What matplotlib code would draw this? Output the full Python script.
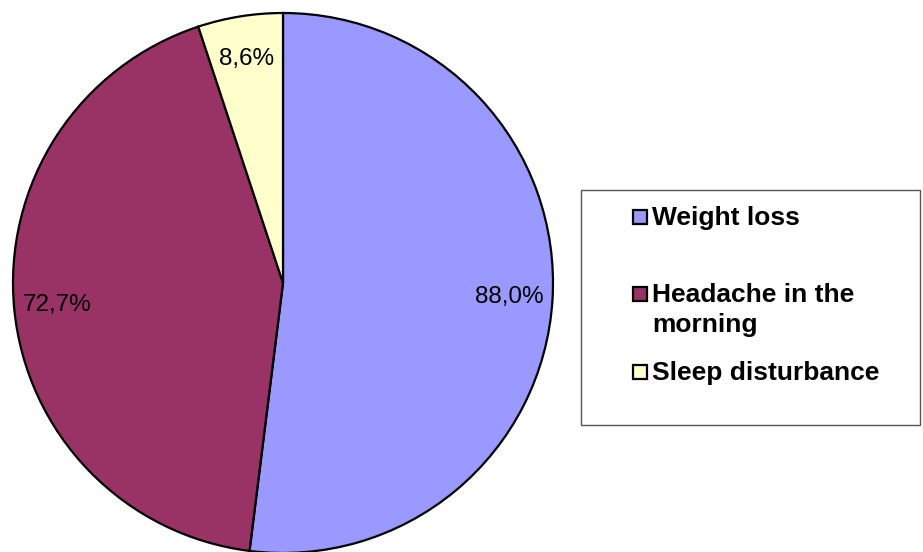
import matplotlib
matplotlib.use("Agg")
import matplotlib.pyplot as plt
from matplotlib.patches import Rectangle

categories = ["Weight loss", "Headache in the\nmorning", "Sleep disturbance"]
values = [88.0, 72.7, 8.6]
value_labels = ["88,0%", "72,7%", "8,6%"]
colors = ["#9999FF", "#993366", "#FFFFCC"]

W, H = 923, 552
fig = plt.figure(figsize=(W / 100, H / 100), dpi=100)
plt.rcParams['font.family'] = ['Liberation Sans', 'DejaVu Sans']

def fx(x):
    return x / W

def fy(y):
    return 1 - y / H

# pie axes: center (283, 283) px, radius 270 px
cx, cy, r = 283, 283, 270
ax = fig.add_axes([fx(cx - r), fy(cy + r), 2 * r / W, 2 * r / H])
wedges, texts = ax.pie(values, colors=colors, startangle=90, counterclock=False,
                       labels=value_labels, labeldistance=0.84,
                       wedgeprops=dict(edgecolor="black", linewidth=1.6, clip_on=False),
                       textprops=dict(fontsize=17.5, color="black"))
for t in texts:
    t.set_ha("center")
    t.set_va("center")
ax.set_xlim(-1, 1)
ax.set_ylim(-1, 1)
ax.set_aspect("equal")
ax.axis("off")

# legend drawn manually
box = Rectangle((fx(581), fy(425)), fx(920) - fx(581), fy(190) - fy(425),
                transform=fig.transFigure, facecolor="white", edgecolor="#555555",
                linewidth=1.0)
fig.patches.append(box)

baselines = [225, 302, 380]
line_gap = 30
for lab, col, yb in zip(categories, colors, baselines):
    sq = Rectangle((fx(633), fy(yb - 1)), 14 / W, 14 / H, transform=fig.transFigure,
                   facecolor=col, edgecolor="black", linewidth=1.6)
    fig.patches.append(sq)
    for k, line in enumerate(lab.split("\n")):
        fig.text(fx(652), fy(yb + k * line_gap), line, ha="left", va="baseline",
                 fontsize=19, fontweight="bold", transform=fig.transFigure)

fig.savefig("out.png", dpi=100)
